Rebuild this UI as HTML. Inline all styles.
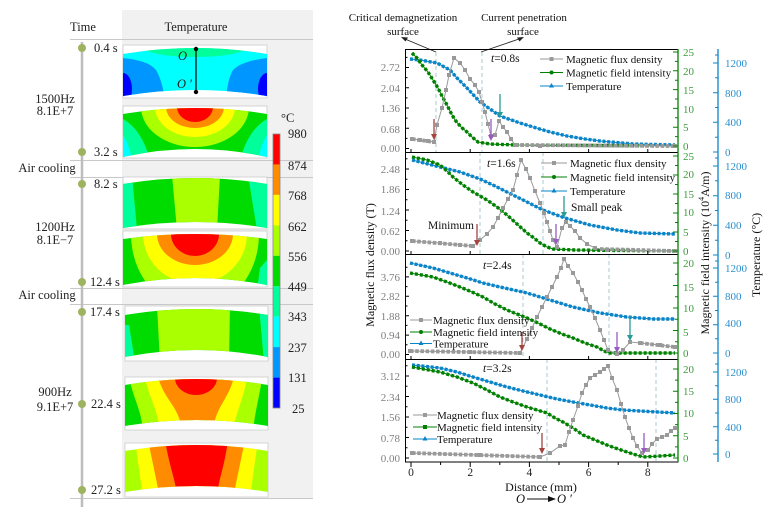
<!DOCTYPE html>
<html><head><meta charset="utf-8"><style>
html,body{margin:0;padding:0;background:#fff;}
svg{display:block;font-family:"Liberation Serif","Times New Roman",serif;}
</style></head><body>
<svg width="777" height="531" viewBox="0 0 777 531" xmlns="http://www.w3.org/2000/svg">
<defs>
<clipPath id="c1"><path d="M123 54 Q195 42 267 54 L267 96 Q195 84 123 96 Z"/></clipPath>
<clipPath id="c2"><path d="M123 114 Q195 102 267 114 L267 157 Q195 141 123 157 Z"/></clipPath>
<clipPath id="c3"><path d="M123 184 Q195 172 267 184 L267 228 Q195 216 123 228 Z"/></clipPath>
<clipPath id="c4"><path d="M123 239 Q195 229 267 239 L267 285 Q195 271 123 285 Z"/></clipPath>
<clipPath id="c5"><path d="M125 315 Q196 303 268 315 L268 357 Q196 343 125 357 Z"/></clipPath>
<clipPath id="c6"><path d="M125 385 Q196 373 268 385 L268 426 Q196 414 125 426 Z"/></clipPath>
<clipPath id="c7"><path d="M125 451 Q196 439 268 451 L268 492 Q196 480 125 492 Z"/></clipPath>
<marker id="sq" markerWidth="6" markerHeight="6" refX="3" refY="3" markerUnits="userSpaceOnUse"><rect x="1" y="1" width="4" height="4" fill="#999"/></marker>
</defs>

<!-- ================= LEFT PANEL ================= -->
<rect x="122" y="10" width="191" height="489" fill="#f1f1f1"/>
<g stroke="#c8c8c8" stroke-width="1">
<line x1="70" y1="39.5" x2="313" y2="39.5"/>
<line x1="70" y1="160.5" x2="313" y2="160.5"/>
<line x1="70" y1="177.5" x2="313" y2="177.5"/>
<line x1="70" y1="288.5" x2="313" y2="288.5"/>
<line x1="70" y1="304.5" x2="313" y2="304.5"/>
<line x1="70" y1="498.5" x2="313" y2="498.5"/>
</g>
<line x1="82" y1="42" x2="82" y2="507" stroke="#bdbdbd" stroke-width="2.5"/>
<g fill="#9db35f">
<circle cx="82" cy="48" r="4"/><circle cx="82" cy="152" r="4"/><circle cx="82" cy="184" r="4"/>
<circle cx="82" cy="282" r="4"/><circle cx="82" cy="312" r="4"/><circle cx="82" cy="404" r="4"/><circle cx="82" cy="490" r="4"/>
</g>
<g font-size="12.5" fill="#222">
<text x="83" y="31" text-anchor="middle">Time</text>
<text x="196" y="31" text-anchor="middle">Temperature</text>
<text x="94" y="52">0.4 s</text>
<text x="94" y="156">3.2 s</text>
<text x="94" y="188">8.2 s</text>
<text x="90" y="286">12.4 s</text>
<text x="90" y="316">17.4 s</text>
<text x="91" y="408">22.4 s</text>
<text x="91" y="494">27.2 s</text>
<text x="55" y="103" text-anchor="middle">1500Hz</text>
<text x="55" y="115" text-anchor="middle">8.1E+7</text>
<text x="47" y="172" text-anchor="middle">Air cooling</text>
<text x="55" y="231" text-anchor="middle">1200Hz</text>
<text x="55" y="244" text-anchor="middle">8.1E−7</text>
<text x="47" y="299" text-anchor="middle">Air cooling</text>
<text x="55" y="396" text-anchor="middle">900Hz</text>
<text x="55" y="411" text-anchor="middle">9.1E+7</text>
</g>

<!-- image boxes -->
<g fill="#fff" stroke="#d4d4d4" stroke-width="1">
<rect x="123" y="45" width="144" height="53"/>
<rect x="123" y="106" width="144" height="52"/>
<rect x="123" y="177" width="144" height="52"/>
<rect x="123" y="231" width="144" height="56"/>
<rect x="125" y="306" width="143" height="55"/>
<rect x="125" y="377" width="143" height="53"/>
<rect x="125" y="443" width="143" height="54"/>
</g>

<!-- image 1 -->
<g clip-path="url(#c1)">
<rect x="120" y="40" width="150" height="62" fill="#00ffff"/>
<ellipse cx="195" cy="47" rx="52" ry="10" fill="#00ff9a"/>
<path d="M123 58 C140 60 150 63 156 70 C160 77 163 86 165 100 L123 100 Z" fill="#0096ff"/>
<path d="M267 58 C252 60 240 63 233 70 C229 77 227 86 226 100 L267 100 Z" fill="#0096ff"/>
<ellipse cx="123" cy="89" rx="9" ry="16" fill="#0000ff"/>
<ellipse cx="267" cy="89" rx="9" ry="16" fill="#0000ff"/>
</g>
<line x1="196" y1="49" x2="196" y2="92" stroke="#000" stroke-width="1.2"/>
<circle cx="196" cy="49" r="2.2" fill="#000"/><circle cx="196" cy="92" r="2.2" fill="#000"/>
<text x="178" y="60" font-size="12.5" font-style="italic" fill="#222">O</text>
<text x="177" y="88" font-size="12.5" font-style="italic" fill="#222">O ′</text>

<!-- image 2 -->
<g clip-path="url(#c2)">
<rect x="120" y="100" width="150" height="62" fill="#00dc00"/>
<path d="M123 119 C133 125 143 135 150 160 L123 160 Z" fill="#00ff9a"/>
<path d="M267 119 C257 125 247 135 240 160 L267 160 Z" fill="#00ff9a"/>
<path d="M123 135 C127 141 130 150 132 160 L123 160 Z" fill="#00ffff"/>
<path d="M267 135 C263 141 260 150 258 160 L267 160 Z" fill="#00ffff"/>
<ellipse cx="195" cy="107" rx="54" ry="40" fill="#aaff00"/>
<ellipse cx="195" cy="107" rx="40" ry="30" fill="#ffff00"/>
<ellipse cx="195" cy="107" rx="29" ry="21" fill="#ff8c00"/>
<ellipse cx="195" cy="107" rx="18" ry="15" fill="#ff0000"/>
</g>

<!-- image 3 -->
<g clip-path="url(#c3)">
<rect x="120" y="170" width="150" height="62" fill="#00dc00"/>
<polygon points="123,175 132,175 137,230 123,230" fill="#00ff9a"/>
<polygon points="248,175 267,175 267,230 257,230" fill="#00ff9a"/>
<polygon points="172,175 220,175 217,230 177,230" fill="#aaff00"/>
</g>

<!-- image 4 -->
<g clip-path="url(#c4)">
<rect x="120" y="228" width="150" height="62" fill="#00dc00"/>
<polygon points="260,268 267,260 267,290 257,290" fill="#00ff9a"/>
<ellipse cx="195" cy="234" rx="64" ry="75" fill="#aaff00"/>
<ellipse cx="195" cy="234" rx="52" ry="50" fill="#ffff00"/>
<ellipse cx="195" cy="234" rx="38" ry="31" fill="#ff8c00"/>
<ellipse cx="195" cy="234" rx="24" ry="22" fill="#ff0000"/>
</g>

<!-- image 5 -->
<g clip-path="url(#c5)">
<rect x="122" y="300" width="150" height="64" fill="#00dc00"/>
<polygon points="125,325 129,325 135,362 125,362" fill="#00ff9a"/>
<polygon points="259,306 268,306 268,362 264,362" fill="#00ff9a"/>
<polygon points="157,306 230,306 229,362 160,362" fill="#aaff00"/>
</g>

<!-- image 6 -->
<g clip-path="url(#c6)">
<rect x="122" y="370" width="150" height="64" fill="#00dc00"/>
<path d="M128 372 C133 400 142 410 143 432 L253 432 C255 410 260 395 263 372 Z" fill="#aaff00"/>
<path d="M143 372 C150 400 158 410 160 432 L233 432 C236 410 244 400 248 372 Z" fill="#ffff00"/>
<path d="M157 372 C162 400 180 405 182 432 L213 432 C215 405 230 400 235 372 Z" fill="#ff8c00"/>
<ellipse cx="196" cy="378" rx="21" ry="17" fill="#ff0000"/>
</g>

<!-- image 7 -->
<g clip-path="url(#c7)">
<rect x="122" y="438" width="150" height="62" fill="#aaff00"/>
<polygon points="135,440 258,440 250,498 143,498" fill="#ffff00"/>
<polygon points="148,440 245,440 233,498 160,498" fill="#ff8c00"/>
<path d="M165 440 L228 440 C224 470 218 480 217 498 L177 498 C176 480 170 470 165 440 Z" fill="#ff0000"/>
</g>

<!-- colour bar -->
<g>
<rect x="273" y="134" width="7" height="30.5" fill="#ff0000"/>
<rect x="273" y="164.4" width="7" height="30.5" fill="#ff8c00"/>
<rect x="273" y="194.9" width="7" height="30.5" fill="#ffff00"/>
<rect x="273" y="225.3" width="7" height="30.5" fill="#aaff00"/>
<rect x="273" y="255.8" width="7" height="30.5" fill="#00dc00"/>
<rect x="273" y="286.2" width="7" height="30.5" fill="#00ff9a"/>
<rect x="273" y="316.7" width="7" height="30.5" fill="#00ffff"/>
<rect x="273" y="347.1" width="7" height="30.5" fill="#0096ff"/>
<rect x="273" y="377.6" width="7" height="30.4" fill="#0000ff"/>
<rect x="273" y="134" width="7" height="274" fill="none" stroke="#888" stroke-width="0.8"/>
</g>
<g font-size="12.5" fill="#222">
<text x="281" y="122">°C</text>
<text x="288" y="138">980</text>
<text x="288" y="170">874</text>
<text x="288" y="200">768</text>
<text x="288" y="231">662</text>
<text x="288" y="261">556</text>
<text x="288" y="291">449</text>
<text x="288" y="321">343</text>
<text x="288" y="352">237</text>
<text x="288" y="382">131</text>
<text x="292" y="413">25</text>
</g>

<!-- ================= RIGHT CHART ================= -->
<g font-size="11" fill="#111" text-anchor="middle">
<text x="403" y="21">Critical demagnetization</text>
<text x="403" y="35">surface</text>
<text x="524" y="21">Current penetration</text>
<text x="523" y="35">surface</text>
</g>
<g stroke="#222" stroke-width="0.9" fill="none">
<line x1="436" y1="52" x2="405" y2="39"/>
<line x1="481" y1="52" x2="519" y2="39"/>
</g>
<path d="M401 37 L408 37.5 L405.5 41.5 Z" fill="#222"/>
<path d="M524 37 L517 37.5 L519.5 41.5 Z" fill="#222"/>

<g stroke="#a9c8cf" stroke-width="1" stroke-dasharray="4 3">
<line x1="436" y1="52" x2="436" y2="152"/>
<line x1="482" y1="52" x2="482" y2="152"/>
<line x1="480" y1="152" x2="480" y2="254"/>
<line x1="543" y1="152" x2="543" y2="254"/>
<line x1="523" y1="254" x2="523" y2="359"/>
<line x1="609" y1="254" x2="609" y2="359"/>
<line x1="547" y1="359" x2="547" y2="462"/>
<line x1="656" y1="359" x2="656" y2="462"/>
</g>

<!-- temperature -->
<g fill="none" stroke="#0a84c8">
<polyline stroke-width="1" points="410,59 420,60 437,63 450,70 457,78 467,88 480,102 500,116 520,123 533,127 550,132 567,136 585,139 600,141 633,144 675,145"/>
<polyline stroke-width="1" points="412,160 440,167 460,172 480,179 495,186 507,192 527,202 543,210 565,218 590,225 617,230 640,233 675,234"/>
<polyline stroke-width="1" points="410,263 433,268 450,273 467,278 483,283 500,287 527,293 550,300 573,307 600,313 627,317 653,319 675,319"/>
<polyline stroke-width="1" points="412,365 440,368 457,372 473,377 490,382 507,387 523,391 540,395 557,399 573,402 590,405 607,408 623,410 640,411 675,413"/>
<g stroke-width="3.4" stroke-dasharray="3 1.7">
<polyline points="410,59 420,60 437,63 450,70 457,78 467,88 480,102 500,116 520,123 533,127 550,132 567,136 585,139 600,141 633,144 675,145"/>
<polyline points="412,160 440,167 460,172 480,179 495,186 507,192 527,202 543,210 565,218 590,225 617,230 640,233 675,234"/>
<polyline points="410,263 433,268 450,273 467,278 483,283 500,287 527,293 550,300 573,307 600,313 627,317 653,319 675,319"/>
<polyline points="412,365 440,368 457,372 473,377 490,382 507,387 523,391 540,395 557,399 573,402 590,405 607,408 623,410 640,411 675,413"/>
</g>
</g>

<!-- field intensity -->
<g fill="none" stroke="#008000">
<polyline stroke-width="1" points="412,53 417,58 422,65 428,72 433,80 438,88 442,96 447,105 451,113 455,120 461,127 467,132 472,137 478,142 484,143 490,144 517,145 675,146"/>
<polyline stroke-width="1" points="412,157 427,160 440,165 447,171 453,177 463,185 473,192 480,196 487,200 497,207 507,215 517,224 527,233 534,238 540,243 547,247 553,249 575,250 675,251"/>
<polyline stroke-width="1" points="410,273 433,277 447,282 460,287 472,292 483,297 495,304 507,310 517,314 527,318 538,323 550,329 562,334 573,338 585,343 597,347 604,351 610,353 633,353 675,353"/>
<polyline stroke-width="1" points="412,367 440,372 457,377 473,383 487,390 500,397 513,402 527,407 537,410 547,413 555,418 563,422 573,428 583,435 595,440 607,445 618,449 630,453 643,457 660,456 675,455"/>
<g stroke-width="3.4" stroke-dasharray="3 2">
<polyline points="412,53 417,58 422,65 428,72 433,80 438,88 442,96 447,105 451,113 455,120 461,127 467,132 472,137 478,142 484,143 490,144 517,145 675,146"/>
<polyline points="412,157 427,160 440,165 447,171 453,177 463,185 473,192 480,196 487,200 497,207 507,215 517,224 527,233 534,238 540,243 547,247 553,249 575,250 675,251"/>
<polyline points="410,273 433,277 447,282 460,287 472,292 483,297 495,304 507,310 517,314 527,318 538,323 550,329 562,334 573,338 585,343 597,347 604,351 610,353 633,353 675,353"/>
<polyline points="412,367 440,372 457,377 473,383 487,390 500,397 513,402 527,407 537,410 547,413 555,418 563,422 573,428 583,435 595,440 607,445 618,449 630,453 643,457 660,456 675,455"/>
</g>
</g>

<!-- flux density -->
<g fill="none" stroke="#9a9a9a" stroke-width="1" marker-start="url(#sq)" marker-mid="url(#sq)" marker-end="url(#sq)">
<polyline points="412,139 420,140 428,141 434,142 437,125 442,108 446,90 449,75 454,58 460,63 465,70 470,79 475,85 479,92 482,102 485,112 488,124 491,136 495,135 499,121 503,127 507,132 511,139 515,145 540,146 675,146"/>
<polyline points="412,241 440,243 460,245 473,246 480,240 487,234 493,227 498,218 503,208 508,199 513,190 517,175 521,160 526,169 530,178 535,191 540,203 544,213 547,222 550,231 553,240 557,247 562,228 566,222 570,226 575,231 580,238 587,244 595,248 607,250 675,251"/>
<polyline points="410,351 470,352 520,353 527,339 532,328 537,317 542,307 547,297 552,287 557,277 561,268 564,259 568,266 573,273 578,282 582,290 586,299 590,307 595,318 600,330 604,340 608,350 617,354 623,350 630,342 640,343 660,345 675,347"/>
<polyline points="412,453 480,455 540,457 550,453 560,446 565,445 569,432 573,420 578,406 582,393 586,385 590,378 595,375 600,372 604,369 608,366 612,378 617,390 621,404 625,417 629,428 633,438 637,446 642,453 648,450 652,444 657,439 662,437 667,435 671,431 675,428"/>
</g>
<g fill="none" stroke="#999" stroke-width="3.8" stroke-dasharray="3.6 1.6">
<polyline points="412,139 434,142"/>
<polyline points="515,145 675,146"/>
<polyline points="412,241 473,246"/>
<polyline points="600,249 675,251"/>
<polyline points="410,351 520,353"/>
<polyline points="640,343 675,347"/>
<polyline points="412,453 540,457"/>
</g>

<!-- small arrows -->
<g stroke-width="1.3">
<line x1="434" y1="119" x2="434" y2="135" stroke="#a5443f"/>
<line x1="491" y1="119" x2="491" y2="136" stroke="#9a5bc4"/>
<line x1="500" y1="94" x2="500" y2="113" stroke="#2a9c96"/>
<line x1="477" y1="224" x2="477" y2="241" stroke="#a5443f"/>
<line x1="556" y1="224" x2="556" y2="240" stroke="#9a5bc4"/>
<line x1="564" y1="196" x2="564" y2="213" stroke="#2a9c96"/>
<line x1="522" y1="332" x2="522" y2="346" stroke="#a5443f"/>
<line x1="617" y1="332" x2="617" y2="348" stroke="#9a5bc4"/>
<line x1="630" y1="316" x2="630" y2="336" stroke="#2a9c96"/>
<line x1="542" y1="433" x2="542" y2="449" stroke="#a5443f"/>
<line x1="644" y1="433" x2="644" y2="449" stroke="#9a5bc4"/>
</g>
<g>
<path d="M431 134 L437 134 L434 140 Z" fill="#a5443f"/>
<path d="M488 135 L494 135 L491 141 Z" fill="#9a5bc4"/>
<path d="M497 112 L503 112 L500 118 Z" fill="#2a9c96"/>
<path d="M474 240 L480 240 L477 246 Z" fill="#a5443f"/>
<path d="M553 239 L559 239 L556 245 Z" fill="#9a5bc4"/>
<path d="M561 212 L567 212 L564 218 Z" fill="#2a9c96"/>
<path d="M519 345 L525 345 L522 351 Z" fill="#a5443f"/>
<path d="M614 347 L620 347 L617 353 Z" fill="#9a5bc4"/>
<path d="M627 335 L633 335 L630 341 Z" fill="#2a9c96"/>
<path d="M539 448 L545 448 L542 454 Z" fill="#a5443f"/>
<path d="M641 448 L647 448 L644 454 Z" fill="#9a5bc4"/>
</g>

<!-- frame -->
<g stroke="#000" stroke-width="1" fill="none">
<rect x="405.5" y="49.5" width="272.5" height="412.5"/>
<line x1="405" y1="152.5" x2="678" y2="152.5"/>
<line x1="405" y1="254.5" x2="678" y2="254.5"/>
<line x1="405" y1="359.5" x2="678" y2="359.5"/>
</g>
<path stroke="#000" stroke-width="1" fill="none" d="
M405 148.5h4M405 128.3h4M405 108h4M405 87.8h4M405 67.5h4
M405 138.4h2.5M405 118.1h2.5M405 97.9h2.5M405 77.6h2.5M405 57.4h2.5
M405 251h4M405 230.5h4M405 210h4M405 189.5h4M405 169h4
M405 240.8h2.5M405 220.3h2.5M405 199.8h2.5M405 179.3h2.5M405 158.8h2.5
M405 354.5h4M405 335.1h4M405 315.7h4M405 296.3h4M405 276.9h4
M405 344.8h2.5M405 325.4h2.5M405 306h2.5M405 286.6h2.5M405 267.2h2.5
M405 458h4M405 437.5h4M405 417h4M405 396.5h4M405 376h4
M405 447.8h2.5M405 427.3h2.5M405 406.8h2.5M405 386.3h2.5M405 365.8h2.5
M411 462v5M470.2 462v5M529.4 462v5M588.6 462v5M647.8 462v5
M440.6 462v3M499.8 462v3M559 462v3M618.2 462v3
M411 152v-3M470.2 152v-3M529.4 152v-3M588.6 152v-3M647.8 152v-3
M411 254v-3M470.2 254v-3M529.4 254v-3M588.6 254v-3M647.8 254v-3
M411 359v-3M470.2 359v-3M529.4 359v-3M588.6 359v-3M647.8 359v-3
"/>
<line x1="678" y1="49" x2="678" y2="462" stroke="#008000" stroke-width="1.3"/>
<path stroke="#008000" stroke-width="1" fill="none" d="
M678 146h-5M678 127.2h-5M678 108.4h-5M678 89.6h-5M678 70.8h-5M678 52h-5
M678 136.6h-3M678 117.8h-3M678 99h-3M678 80.2h-3M678 61.4h-3
M678 251h-5M678 232h-5M678 213h-5M678 194h-5M678 175h-5M678 156h-5
M678 241.5h-3M678 222.5h-3M678 203.5h-3M678 184.5h-3M678 165.5h-3
M678 353h-5M678 330.5h-5M678 308h-5M678 285.5h-5M678 263h-5
M678 341.8h-3M678 319.3h-3M678 296.8h-3M678 274.3h-3
M678 458h-5M678 435.8h-5M678 413.5h-5M678 391.3h-5M678 369h-5
M678 446.9h-3M678 424.6h-3M678 402.4h-3M678 380.1h-3
"/>
<g font-size="11" fill="#3a9a3a">
<text x="683" y="56">25</text><text x="683" y="75">20</text><text x="683" y="94">15</text><text x="683" y="113">10</text><text x="683" y="131">5</text><text x="683" y="150">0</text>
<text x="683" y="160">25</text><text x="683" y="178">20</text><text x="683" y="198">15</text><text x="683" y="216">10</text><text x="683" y="236">5</text><text x="683" y="255">0</text>
<text x="683" y="267">20</text><text x="683" y="291">15</text><text x="683" y="312">10</text><text x="683" y="336">5</text><text x="683" y="357">0</text>
<text x="683" y="373">20</text><text x="683" y="395">15</text><text x="683" y="417">10</text><text x="683" y="440">5</text><text x="683" y="462">0</text>
</g>
<line x1="718" y1="49" x2="718" y2="462" stroke="#0a84c8" stroke-width="1.3"/>
<path stroke="#0a84c8" stroke-width="1" fill="none" d="
M718 152h-5M718 122.3h-5M718 92.7h-5M718 63h-5
M718 137.2h-3M718 107.5h-3M718 77.8h-3M718 55h-3
M718 255h-5M718 225.3h-5M718 195.7h-5M718 166h-5
M718 240.2h-3M718 210.5h-3M718 180.8h-3M718 158h-3
M718 353h-5M718 324.7h-5M718 296.3h-5M718 268h-5
M718 338.8h-3M718 310.5h-3M718 282.2h-3M718 261h-3
M718 454h-5M718 426.7h-5M718 399.3h-5M718 372h-5
M718 440.3h-3M718 413h-3M718 385.7h-3M718 364h-3
"/>
<g font-size="11" fill="#2a8fd0">
<text x="725" y="67">1200</text><text x="725" y="97">800</text><text x="725" y="126">400</text><text x="725" y="156">0</text>
<text x="725" y="170">1200</text><text x="725" y="199">800</text><text x="725" y="229">400</text><text x="725" y="259">0</text>
<text x="725" y="272">1200</text><text x="725" y="300">800</text><text x="725" y="327">400</text><text x="725" y="357">0</text>
<text x="725" y="376">1200</text><text x="725" y="403">800</text><text x="725" y="431">400</text><text x="725" y="458">0</text>
</g>
<g font-size="11" fill="#808080" text-anchor="end">
<text x="400" y="71">2.72</text><text x="400" y="92">2.04</text><text x="400" y="112">1.36</text><text x="400" y="133">0.68</text><text x="400" y="152">0.00</text>
<text x="400" y="173">2.48</text><text x="400" y="193">1.86</text><text x="400" y="215">1.24</text><text x="400" y="235">0.62</text><text x="400" y="255">0.00</text>
<text x="400" y="281">3.76</text><text x="400" y="300">2.82</text><text x="400" y="320">1.88</text><text x="400" y="339">0.94</text><text x="400" y="358">0.00</text>
<text x="400" y="380">3.12</text><text x="400" y="401">2.34</text><text x="400" y="421">1.56</text><text x="400" y="442">0.78</text><text x="400" y="462">0.00</text>
</g>
<g font-size="11.5" fill="#222" text-anchor="middle">
<text x="411" y="476">0</text><text x="470.2" y="476">2</text><text x="529.4" y="476">4</text><text x="588.6" y="476">6</text><text x="647.8" y="476">8</text>
</g>
<text x="541" y="491" font-size="12" fill="#111" text-anchor="middle">Distance (mm)</text>
<text x="516" y="503" font-size="12.5" font-style="italic" fill="#111">O</text>
<line x1="527" y1="499" x2="550" y2="499" stroke="#111" stroke-width="1"/>
<path d="M556 499 L548 496 L548 502 Z" fill="#111"/>
<text x="557" y="503" font-size="12.5" font-style="italic" fill="#111">O ′</text>

<text transform="translate(374,265) rotate(-90)" font-size="12" fill="#111" text-anchor="middle">Magnetic flux density (T)</text>
<text transform="translate(709,253) rotate(-90)" font-size="12" fill="#111" text-anchor="middle">Magnetic field intensity (10<tspan font-size="8" dy="-5">4</tspan><tspan dy="5">A/m)</tspan></text>
<text transform="translate(760,255) rotate(-90)" font-size="12" fill="#111" text-anchor="middle">Temperature (°C)</text>

<g font-size="11.5" fill="#111">
<text x="491" y="62"><tspan font-style="italic">t</tspan>=0.8s</text>
<text x="487" y="167"><tspan font-style="italic">t</tspan>=1.6s</text>
<text x="483" y="269"><tspan font-style="italic">t</tspan>=2.4s</text>
<text x="483" y="372"><tspan font-style="italic">t</tspan>=3.2s</text>
<text x="428" y="229">Minimum</text>
<text x="571" y="211">Small peak</text>
</g>

<g font-size="11" fill="#111">
<line x1="540" y1="59" x2="563" y2="59" stroke="#9a9a9a"/><rect x="549.5" y="57" width="4" height="4" fill="#999"/>
<line x1="540" y1="72.5" x2="563" y2="72.5" stroke="#008000"/><circle cx="551.5" cy="72.5" r="2" fill="#008000"/>
<line x1="540" y1="86" x2="563" y2="86" stroke="#0a84c8"/><path d="M551.5 83 L554 87.5 L549 87.5 Z" fill="#0a84c8"/>
<text x="566" y="63">Magnetic flux density</text>
<text x="566" y="76.5">Magnetic field intensity</text>
<text x="566" y="90">Temperature</text>
<line x1="541" y1="163" x2="567" y2="163" stroke="#9a9a9a"/><rect x="552" y="161" width="4" height="4" fill="#999"/>
<line x1="541" y1="177" x2="567" y2="177" stroke="#008000"/><circle cx="554" cy="177" r="2" fill="#008000"/>
<line x1="541" y1="191" x2="567" y2="191" stroke="#0a84c8"/><path d="M554 188 L556.5 192.5 L551.5 192.5 Z" fill="#0a84c8"/>
<text x="570" y="167">Magnetic flux density</text>
<text x="570" y="181">Magnetic field intensity</text>
<text x="570" y="195">Temperature</text>
<line x1="410" y1="320" x2="432" y2="320" stroke="#9a9a9a"/><rect x="419" y="318" width="4" height="4" fill="#999"/>
<line x1="410" y1="332" x2="432" y2="332" stroke="#008000"/><circle cx="421" cy="332" r="2" fill="#008000"/>
<line x1="410" y1="343.5" x2="432" y2="343.5" stroke="#0a84c8"/><path d="M421 340.5 L423.5 345 L418.5 345 Z" fill="#0a84c8"/>
<text x="433" y="324">Magnetic flux density</text>
<text x="433" y="336">Magnetic field intensity</text>
<text x="433" y="347.5">Temperature</text>
<line x1="413" y1="415" x2="437" y2="415" stroke="#9a9a9a"/><rect x="423" y="413" width="4" height="4" fill="#999"/>
<line x1="413" y1="427" x2="437" y2="427" stroke="#008000"/><rect x="423" y="425" width="4" height="4" fill="#008000"/>
<line x1="413" y1="439" x2="437" y2="439" stroke="#0a84c8"/><path d="M425 436 L427.5 440.5 L422.5 440.5 Z" fill="#0a84c8"/>
<text x="437" y="419">Magnetic flux density</text>
<text x="437" y="431">Magnetic field intensity</text>
<text x="437" y="443">Temperature</text>
</g>
</svg>
</body></html>
